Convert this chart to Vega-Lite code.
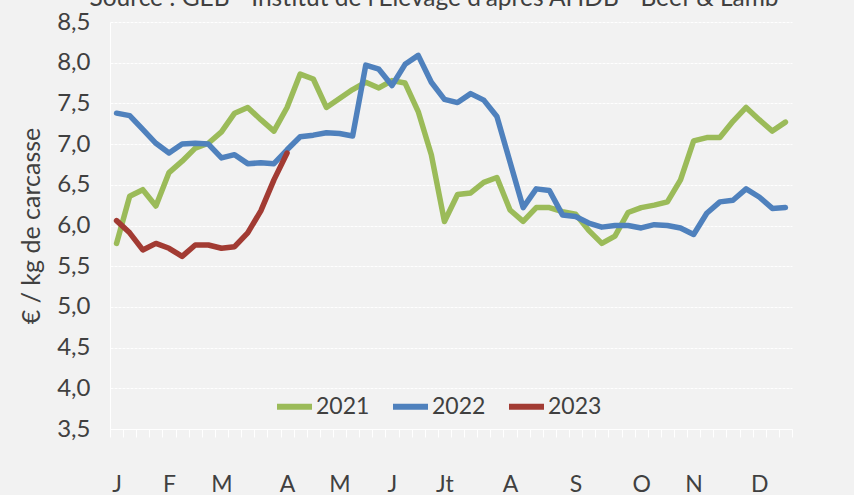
{
  "$schema": "https://vega.github.io/schema/vega-lite/v6.json",
  "autosize": "none",
  "width": 682,
  "height": 407,
  "padding": {"left": 110, "top": 22, "right": 62, "bottom": 66},
  "background": "#f2f2f2",
  "title": {
    "text": "Source : GEB - Institut de l'Elevage d'après AHDB - Beef & Lamb",
    "fontSize": 24.5,
    "font": "Lato",
    "fontWeight": "normal",
    "color": "#404040",
    "anchor": "middle",
    "frame": "group",
    "dx": -17,
    "dy": 20,
    "baseline": "alphabetic",
    "offset": 0
  },
  "config": {
    "view": {"stroke": null},
    "font": "Lato"
  },
  "data": {
    "values": [
      {"week": 1, "year": "2021", "price": 5.78},
      {"week": 2, "year": "2021", "price": 6.36},
      {"week": 3, "year": "2021", "price": 6.44},
      {"week": 4, "year": "2021", "price": 6.24},
      {"week": 5, "year": "2021", "price": 6.65},
      {"week": 6, "year": "2021", "price": 6.79},
      {"week": 7, "year": "2021", "price": 6.95},
      {"week": 8, "year": "2021", "price": 7.01},
      {"week": 9, "year": "2021", "price": 7.15},
      {"week": 10, "year": "2021", "price": 7.38},
      {"week": 11, "year": "2021", "price": 7.45},
      {"week": 12, "year": "2021", "price": 7.3},
      {"week": 13, "year": "2021", "price": 7.16},
      {"week": 14, "year": "2021", "price": 7.45},
      {"week": 15, "year": "2021", "price": 7.86},
      {"week": 16, "year": "2021", "price": 7.8},
      {"week": 17, "year": "2021", "price": 7.45},
      {"week": 18, "year": "2021", "price": 7.56},
      {"week": 19, "year": "2021", "price": 7.67},
      {"week": 20, "year": "2021", "price": 7.76},
      {"week": 21, "year": "2021", "price": 7.69},
      {"week": 22, "year": "2021", "price": 7.78},
      {"week": 23, "year": "2021", "price": 7.75},
      {"week": 24, "year": "2021", "price": 7.4},
      {"week": 25, "year": "2021", "price": 6.87},
      {"week": 26, "year": "2021", "price": 6.05},
      {"week": 27, "year": "2021", "price": 6.38},
      {"week": 28, "year": "2021", "price": 6.4},
      {"week": 29, "year": "2021", "price": 6.53},
      {"week": 30, "year": "2021", "price": 6.59},
      {"week": 31, "year": "2021", "price": 6.19},
      {"week": 32, "year": "2021", "price": 6.05},
      {"week": 33, "year": "2021", "price": 6.22},
      {"week": 34, "year": "2021", "price": 6.22},
      {"week": 35, "year": "2021", "price": 6.17},
      {"week": 36, "year": "2021", "price": 6.14},
      {"week": 37, "year": "2021", "price": 5.94},
      {"week": 38, "year": "2021", "price": 5.78},
      {"week": 39, "year": "2021", "price": 5.87},
      {"week": 40, "year": "2021", "price": 6.16},
      {"week": 41, "year": "2021", "price": 6.22},
      {"week": 42, "year": "2021", "price": 6.25},
      {"week": 43, "year": "2021", "price": 6.29},
      {"week": 44, "year": "2021", "price": 6.56},
      {"week": 45, "year": "2021", "price": 7.04},
      {"week": 46, "year": "2021", "price": 7.08},
      {"week": 47, "year": "2021", "price": 7.08},
      {"week": 48, "year": "2021", "price": 7.28},
      {"week": 49, "year": "2021", "price": 7.45},
      {"week": 50, "year": "2021", "price": 7.3},
      {"week": 51, "year": "2021", "price": 7.16},
      {"week": 52, "year": "2021", "price": 7.27},
      {"week": 1, "year": "2022", "price": 7.38},
      {"week": 2, "year": "2022", "price": 7.35},
      {"week": 3, "year": "2022", "price": 7.18},
      {"week": 4, "year": "2022", "price": 7.01},
      {"week": 5, "year": "2022", "price": 6.89},
      {"week": 6, "year": "2022", "price": 7.0},
      {"week": 7, "year": "2022", "price": 7.01},
      {"week": 8, "year": "2022", "price": 7.0},
      {"week": 9, "year": "2022", "price": 6.83},
      {"week": 10, "year": "2022", "price": 6.87},
      {"week": 11, "year": "2022", "price": 6.76},
      {"week": 12, "year": "2022", "price": 6.77},
      {"week": 13, "year": "2022", "price": 6.76},
      {"week": 14, "year": "2022", "price": 6.93},
      {"week": 15, "year": "2022", "price": 7.09},
      {"week": 16, "year": "2022", "price": 7.11},
      {"week": 17, "year": "2022", "price": 7.14},
      {"week": 18, "year": "2022", "price": 7.13},
      {"week": 19, "year": "2022", "price": 7.1},
      {"week": 20, "year": "2022", "price": 7.97},
      {"week": 21, "year": "2022", "price": 7.92},
      {"week": 22, "year": "2022", "price": 7.72},
      {"week": 23, "year": "2022", "price": 7.98},
      {"week": 24, "year": "2022", "price": 8.09},
      {"week": 25, "year": "2022", "price": 7.76},
      {"week": 26, "year": "2022", "price": 7.55},
      {"week": 27, "year": "2022", "price": 7.51},
      {"week": 28, "year": "2022", "price": 7.62},
      {"week": 29, "year": "2022", "price": 7.54},
      {"week": 30, "year": "2022", "price": 7.34},
      {"week": 31, "year": "2022", "price": 6.78},
      {"week": 32, "year": "2022", "price": 6.22},
      {"week": 33, "year": "2022", "price": 6.45},
      {"week": 34, "year": "2022", "price": 6.43},
      {"week": 35, "year": "2022", "price": 6.13},
      {"week": 36, "year": "2022", "price": 6.11},
      {"week": 37, "year": "2022", "price": 6.03},
      {"week": 38, "year": "2022", "price": 5.98},
      {"week": 39, "year": "2022", "price": 6.0},
      {"week": 40, "year": "2022", "price": 6.0},
      {"week": 41, "year": "2022", "price": 5.97},
      {"week": 42, "year": "2022", "price": 6.01},
      {"week": 43, "year": "2022", "price": 6.0},
      {"week": 44, "year": "2022", "price": 5.97},
      {"week": 45, "year": "2022", "price": 5.89},
      {"week": 46, "year": "2022", "price": 6.15},
      {"week": 47, "year": "2022", "price": 6.29},
      {"week": 48, "year": "2022", "price": 6.31},
      {"week": 49, "year": "2022", "price": 6.45},
      {"week": 50, "year": "2022", "price": 6.35},
      {"week": 51, "year": "2022", "price": 6.21},
      {"week": 52, "year": "2022", "price": 6.22},
      {"week": 1, "year": "2023", "price": 6.06},
      {"week": 2, "year": "2023", "price": 5.91},
      {"week": 3, "year": "2023", "price": 5.7},
      {"week": 4, "year": "2023", "price": 5.78},
      {"week": 5, "year": "2023", "price": 5.72},
      {"week": 6, "year": "2023", "price": 5.62},
      {"week": 7, "year": "2023", "price": 5.76},
      {"week": 8, "year": "2023", "price": 5.76},
      {"week": 9, "year": "2023", "price": 5.72},
      {"week": 10, "year": "2023", "price": 5.74},
      {"week": 11, "year": "2023", "price": 5.91},
      {"week": 12, "year": "2023", "price": 6.18},
      {"week": 13, "year": "2023", "price": 6.56},
      {"week": 14, "year": "2023", "price": 6.89}
    ]
  },
  "mark": {"type": "line", "strokeWidth": 5.5, "strokeJoin": "round", "strokeCap": "round", "clip": true},
  "encoding": {
    "x": {
      "field": "week",
      "type": "quantitative",
      "scale": {"domain": [0.5, 52.5], "nice": false, "zero": false},
      "axis": {
        "title": null,
        "grid": false,
        "values": [0.5,1,1.5,2.5,3.5,4.5,5,5.5,6.5,7.5,8.5,9,9.5,10.5,11.5,12.5,13.5,14,14.5,15.5,16.5,17.5,18,18.5,19.5,20.5,21.5,22,22.5,23.5,24.5,25.5,26,26.5,27.5,28.5,29.5,30.5,31,31.5,32.5,33.5,34.5,35.5,36,36.5,37.5,38.5,39.5,40.5,41,41.5,42.5,43.5,44.5,45,45.5,46.5,47.5,48.5,49.5,50,50.5,51.5,52.5],
        "labelExpr": "datum.value===1?'J':datum.value===5?'F':datum.value===9?'M':datum.value===14?'A':datum.value===18?'M':datum.value===22?'J':datum.value===26?'Jt':datum.value===31?'A':datum.value===36?'S':datum.value===41?'O':datum.value===45?'N':datum.value===50?'D':''",
        "labelOverlap": false,
        "labelFlush": false,
        "labelFontSize": 23,
        "labelColor": "#404040",
        "labelPadding": 36,
        "labelBaseline": "top",
        "tickSize": 8,
        "tickColor": "#ffffff",
        "tickWidth": 1,
        "tickOpacity": {"condition": {"test": "datum.value % 1 === 0", "value": 0}, "value": 1},
        "domainColor": "#ffffff",
        "domainWidth": 1
      }
    },
    "y": {
      "field": "price",
      "type": "quantitative",
      "scale": {"domain": [3.5, 8.5], "nice": false, "zero": false},
      "axis": {
        "title": "€ / kg de carcasse",
        "titleFontSize": 25,
        "titleFontWeight": "normal",
        "titleColor": "#404040",
        "titlePadding": 12,
        "values": [3.5, 4, 4.5, 5, 5.5, 6, 6.5, 7, 7.5, 8, 8.5],
        "labelExpr": "replace(format(datum.value, '.1f'), '.', ',')",
        "labelFontSize": 24,
        "labelColor": "#404040",
        "labelPadding": 20,
        "ticks": false,
        "domainColor": "#ffffff",
        "gridColor": "#ffffff",
        "gridWidth": 1,
        "gridDash": [3, 1]
      }
    },
    "color": {
      "field": "year",
      "type": "nominal",
      "scale": {"domain": ["2021", "2022", "2023"], "range": ["#9BBB59", "#4F81BD", "#A23B33"]},
      "legend": {
        "title": null,
        "orient": "none",
        "direction": "horizontal",
        "legendX": 164,
        "legendY": 364,
        "symbolType": "stroke",
        "symbolSize": 1225,
        "symbolStrokeWidth": 6,
        "labelFontSize": 23,
        "labelColor": "#404040",
        "labelOffset": 1,
        "columnPadding": 11
      }
    }
  }
}
